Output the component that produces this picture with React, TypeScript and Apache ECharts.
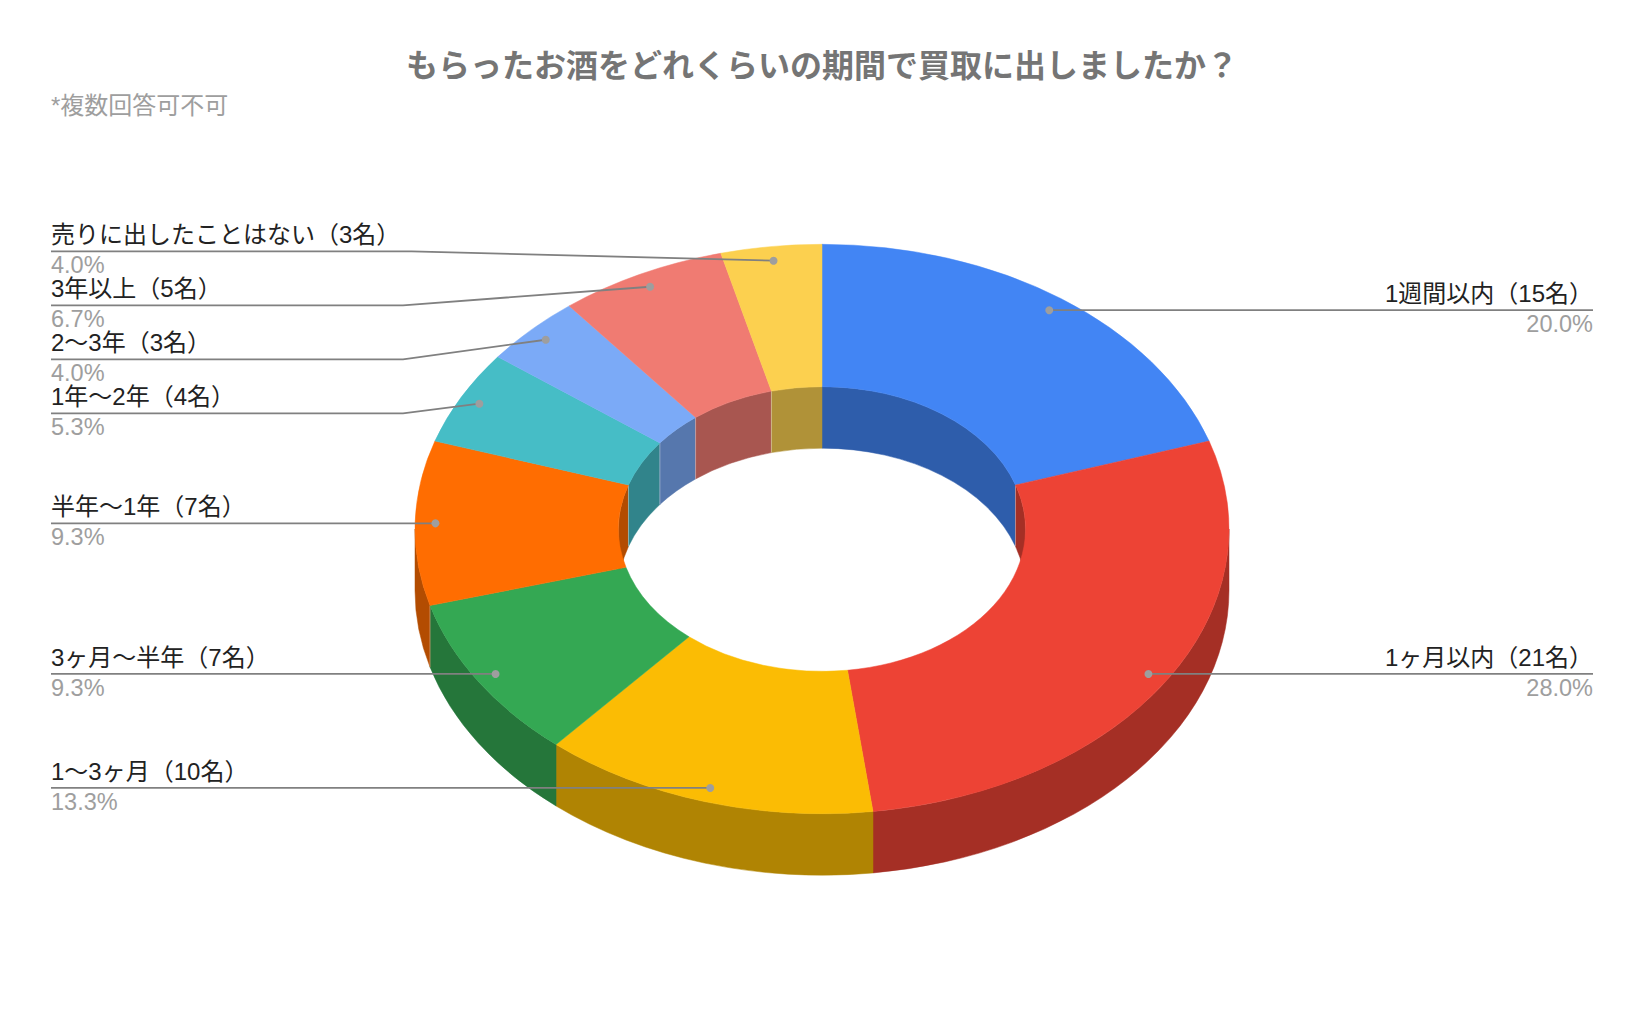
import React, { useEffect, useRef } from "react";
import * as echarts from "echarts";

const titleText = "もらったお酒をどれくらいの期間で買取に出しましたか？";
const subtitleText = "*複数回答可不可";
const categories = ["1週間以内", "1ヶ月以内", "1〜3ヶ月", "3ヶ月〜半年", "半年〜1年", "1年〜2年", "2〜3年", "3年以上", "売りに出したことはない"];
const counts = [15, 21, 10, 7, 7, 4, 3, 5, 3];
const colors = ["#4285f4", "#ed4335", "#fbbc04", "#34a853", "#ff6d01", "#46bdc6", "#7baaf7", "#f07b72", "#fcd04f"];
const wallColors = ["#2e5dab", "#a52f25", "#b08403", "#25763a", "#b34c01", "#31848b", "#5677ad", "#a85650", "#b09238"];
// Where the leader's horizontal run sits, for labels that do not sit level with their dot.
const leaderY: (number | null)[] = [null, null, null, null, null, 413.3, 359.3, 305.3, 251.3];
const elbowX: (number | null)[] = [null, null, null, null, null, 403, 403, 403, 411.7];

const CX = 822, CY = 529, RX = 407, RY = 284.7, HOLE = 0.5, DEPTH = 61.5;
const LEFT = 51, RIGHT = 1593;
const FONT = '"Liberation Sans", "Noto Sans CJK JP", sans-serif';
const total = counts.reduce((a, b) => a + b, 0);

const startAngle = (i: number) => (counts.slice(0, i).reduce((a, b) => a + b, 0) / total) * 360;
const pt = (deg: number, r: number, dy = 0) => {
  const t = (deg * Math.PI) / 180;
  return [CX + RX * r * Math.sin(t), CY - RY * r * Math.cos(t) + dy];
};
const arc = (to: number, r: number, dy: number, from: number, sweep: number) => {
  const p = pt(to, r, dy);
  const large = Math.abs(to - from) > 180 ? 1 : 0;
  return `A${RX * r} ${RY * r} 0 ${large} ${sweep} ${p[0]} ${p[1]}`;
};
const wallPath = (a: number, b: number, r: number) => {
  const p0 = pt(a, r), p1 = pt(b, r, DEPTH), p2 = pt(a, r, DEPTH);
  return `M${p0[0]} ${p0[1]}${arc(b, r, 0, a, 1)}L${p1[0]} ${p1[1]}${arc(a, r, DEPTH, b, 0)}L${p2[0]} ${p2[1]}Z`;
};
const facePath = (a: number, b: number) => {
  const o = pt(a, 1), i = pt(b, HOLE);
  return `M${o[0]} ${o[1]}${arc(b, 1, 0, a, 1)}L${i[0]} ${i[1]}${arc(a, HOLE, 0, b, 0)}Z`;
};
const clip = (a: number, b: number, lo: number, hi: number): [number, number] | null => {
  const s = Math.max(a, lo), e = Math.min(b, hi);
  return e > s ? [s, e] : null;
};
const edge = (deg: number, r: number) => {
  const p = pt(deg, r), q = pt(deg, r, DEPTH);
  return {
    type: "line",
    shape: { x1: p[0], y1: p[1], x2: q[0], y2: q[1] },
    style: { stroke: "rgba(255,255,255,0.45)", lineWidth: 0.8 },
  };
};

const seriesData = counts.map((v, i) => [v, i]);

const wallsItem = (_: any, api: any) => {
  const i = api.value(1);
  const a = startAngle(i);
  const b = a + (api.value(0) / total) * 360;
  const children: any[] = [];
  const fill = wallColors[i];
  const style = { fill, stroke: fill, lineWidth: 0.5 };
  for (const [lo, hi] of [[0, 90], [270, 360]]) {
    const c = clip(a, b, lo, hi);
    if (c) children.push({ type: "path", shape: { pathData: wallPath(c[0], c[1], HOLE) }, style });
  }
  const front = clip(a, b, 90, 270);
  if (front) children.push({ type: "path", shape: { pathData: wallPath(front[0], front[1], 1) }, style });
  if (i > 0 && (a < 90 || a > 270)) children.push(edge(a, HOLE));
  if (a > 240 && a < 270) children.push(edge(a, 1));
  return { type: "group", children };
};

const faceItem = (_: any, api: any) => {
  const i = api.value(1);
  const a = startAngle(i);
  const b = a + (api.value(0) / total) * 360;
  return {
    type: "path",
    shape: { pathData: facePath(a, b) },
    style: { fill: colors[i], stroke: colors[i], lineWidth: 0.5 },
  };
};

const labelItem = (_: any, api: any) => {
  const i = api.value(1);
  const v = api.value(0);
  const mid = startAngle(i) + (v / total) * 180;
  const dot = pt(mid, 0.95);
  const isLeft = mid > 180;
  const y = leaderY[i] ?? dot[1];
  const end = isLeft ? LEFT : RIGHT;
  const points = elbowX[i] != null ? [[end, y], [elbowX[i] as number, y], dot] : [[end, y], dot];
  return {
    type: "group",
    children: [
      { type: "polyline", shape: { points }, style: { stroke: "#808080", lineWidth: 1.8, fill: "none" } },
      { type: "circle", shape: { cx: dot[0], cy: dot[1], r: 4 }, style: { fill: "#9e9e9e" } },
      {
        type: "text", x: end, y: y - 16.5,
        style: { text: `${categories[i]}（${v}名）`, fill: "#222222", font: `24px ${FONT}`, textAlign: isLeft ? "left" : "right", textVerticalAlign: "middle" },
      },
      {
        type: "text", x: end, y: y + 14,
        style: { text: `${((v / total) * 100).toFixed(1)}%`, fill: "#9e9e9e", font: `23.5px ${FONT}`, textAlign: isLeft ? "left" : "right", textVerticalAlign: "middle" },
      },
    ],
  };
};

export default function App() {
  const ref = useRef<HTMLDivElement>(null);
  useEffect(() => {
    const chart = echarts.init(ref.current as HTMLDivElement, null, { renderer: "svg" });
    const layer = (renderItem: any, z: number) => ({
      type: "custom", coordinateSystem: "none", data: seriesData, renderItem, z, silent: true, animation: false,
    });
    chart.setOption({
      animation: false,
      backgroundColor: "#ffffff",
      title: [
        { text: titleText, left: 822, top: 47, padding: 0, textAlign: "center", textStyle: { fontFamily: '"Noto Sans CJK JP"', fontSize: 32, fontWeight: "bold", color: "#757575" } },
        { text: subtitleText, left: LEFT, top: 93, padding: 0, textStyle: { fontFamily: FONT, fontSize: 24, fontWeight: "normal", color: "#9e9e9e" } },
      ],
      series: [layer(wallsItem, 1), layer(faceItem, 2), layer(labelItem, 3)],
    });
    return () => chart.dispose();
  }, []);
  return <div ref={ref} style={{ position: "absolute", left: 0, top: 0, width: 1644, height: 1018 }} />;
}
